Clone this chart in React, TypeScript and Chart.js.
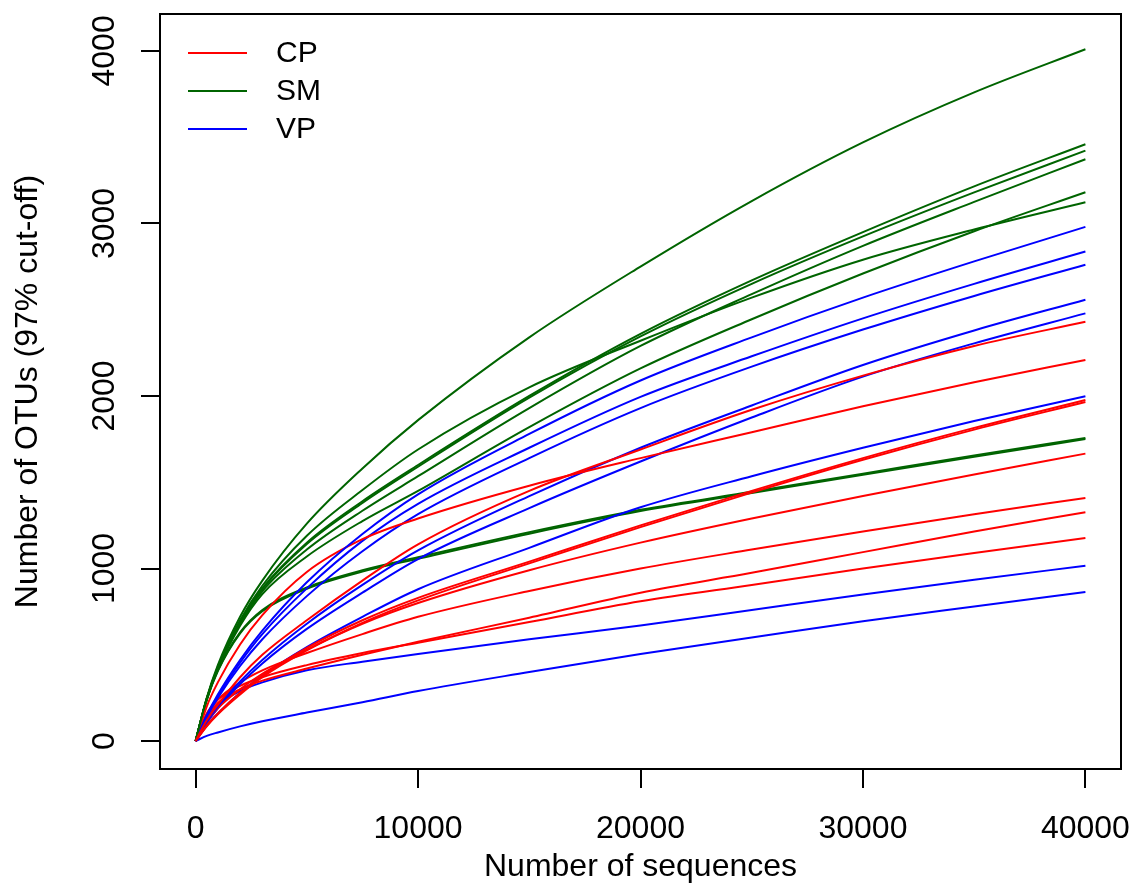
import React, { useEffect, useRef } from "react";
import { Chart, registerables } from "chart.js";

Chart.register(...registerables);

// Rarefaction depth (number of sequences) at which curves are sampled
const xSeq = [0, 500, 1000, 2000, 3000, 5000, 7500, 10000, 15000, 20000, 25000, 30000, 35000, 40000];
const xTicks = [0, 10000, 20000, 30000, 40000];
const yTicks = [0, 1000, 2000, 3000, 4000];

// CP samples (red)
const cp1 = [0, 120, 210, 370, 500, 700, 930, 1140, 1450, 1690, 1920, 2118, 2290, 2430];
const cp2 = [0, 200, 340, 560, 730, 980, 1170, 1290, 1480, 1640, 1790, 1940, 2080, 2209];
const cp3 = [0, 90, 160, 280, 380, 540, 700, 830, 1040, 1250, 1450, 1640, 1815, 1977];
const cp4 = [0, 85, 155, 270, 370, 525, 685, 815, 1030, 1240, 1440, 1630, 1805, 1965];
const cp5 = [0, 110, 190, 300, 390, 530, 680, 800, 990, 1150, 1290, 1420, 1545, 1666];
const cp6 = [0, 150, 240, 340, 410, 510, 620, 720, 870, 1000, 1110, 1215, 1315, 1409];
const cp7 = [0, 140, 220, 300, 350, 420, 500, 575, 715, 860, 975, 1095, 1215, 1326];
const cp8 = [0, 160, 240, 320, 370, 440, 510, 570, 690, 810, 905, 1000, 1090, 1177];

// SM samples (dark green)
const sm1 = [0, 250, 440, 720, 930, 1260, 1580, 1860, 2340, 2750, 3130, 3470, 3760, 4010];
const sm2 = [0, 245, 425, 690, 885, 1150, 1390, 1600, 2000, 2360, 2670, 2950, 3215, 3459];
const sm3 = [0, 244, 423, 686, 880, 1142, 1380, 1590, 1990, 2345, 2650, 2925, 3180, 3422];
const sm4 = [0, 242, 420, 678, 868, 1110, 1335, 1535, 1930, 2290, 2590, 2870, 3125, 3372];
const sm5 = [0, 240, 415, 668, 852, 1070, 1275, 1450, 1820, 2160, 2445, 2710, 2955, 3181];
const sm6 = [0, 246, 430, 700, 900, 1190, 1455, 1690, 2050, 2320, 2570, 2790, 2965, 3123];
const sm7 = [0, 240, 410, 630, 760, 890, 990, 1065, 1210, 1340, 1445, 1550, 1655, 1757];
const sm8 = [0, 237, 405, 624, 752, 882, 982, 1057, 1202, 1333, 1438, 1543, 1648, 1750];

// VP samples (blue)
const vp1 = [0, 150, 270, 470, 640, 920, 1200, 1430, 1780, 2090, 2340, 2570, 2780, 2980];
const vp2 = [0, 145, 260, 455, 620, 885, 1160, 1375, 1700, 1995, 2230, 2450, 2650, 2837];
const vp3 = [0, 140, 250, 435, 590, 840, 1100, 1315, 1640, 1930, 2170, 2385, 2580, 2761];
const vp4 = [0, 110, 200, 345, 470, 680, 905, 1105, 1420, 1700, 1945, 2180, 2380, 2558];
const vp5 = [0, 105, 190, 330, 450, 650, 860, 1055, 1350, 1620, 1875, 2112, 2305, 2479];
const vp6 = [0, 90, 160, 280, 380, 545, 720, 880, 1120, 1355, 1535, 1700, 1855, 1998];
const vp7 = [0, 130, 210, 290, 340, 410, 460, 505, 590, 670, 760, 850, 935, 1016];
const vp8 = [0, 30, 50, 85, 115, 165, 225, 290, 400, 505, 600, 695, 780, 864];

const groupNames = ["CP", "SM", "VP"];
const groupColors = ["#FF0000", "#006400", "#0000FF"];
const cpCurves = [cp1, cp2, cp3, cp4, cp5, cp6, cp7, cp8];
const smCurves = [sm1, sm2, sm3, sm4, sm5, sm6, sm7, sm8];
const vpCurves = [vp1, vp2, vp3, vp4, vp5, vp6, vp7, vp8];

const xTitle = "Number of sequences";
const yTitle = "Number of OTUs (97% cut-off)";
const FONT = '"Liberation Sans", Arial, Helvetica, sans-serif';

export default function App() {
  const ref = useRef<HTMLCanvasElement | null>(null);

  useEffect(() => {
    if (!ref.current) return;
    const groups = [cpCurves, smCurves, vpCurves];
    const datasets: any[] = [];
    for (let i = 0; i < 8; i++) {
      groups.forEach((g, gi) => {
        datasets.push({
          label: groupNames[gi] + (i + 1),
          data: xSeq.map((x, k) => ({ x, y: g[i][k] })),
          borderColor: groupColors[gi],
          backgroundColor: groupColors[gi],
          borderWidth: 2,
          pointRadius: 0,
          fill: false,
          cubicInterpolationMode: "monotone",
        });
      });
    }

    const decor = {
      id: "decor",
      afterDraw(chart: any) {
        const { ctx, chartArea: a, scales } = chart;
        ctx.save();
        ctx.strokeStyle = "#000";
        ctx.lineWidth = 2;
        ctx.strokeRect(a.left, a.top, a.right - a.left, a.bottom - a.top);
        // y tick labels (rotated, as in R)
        ctx.fillStyle = "#000";
        ctx.font = `32px ${FONT}`;
        ctx.textAlign = "center";
        ctx.textBaseline = "middle";
        for (const v of yTicks) {
          const py = scales.y.getPixelForValue(v);
          ctx.save();
          ctx.translate(105, py);
          ctx.rotate(-Math.PI / 2);
          ctx.fillText(String(v), 0, 0);
          ctx.restore();
        }
        // legend
        ctx.font = `30px ${FONT}`;
        ctx.textAlign = "left";
        groupNames.forEach((name, i) => {
          const y = 53 + i * 38;
          ctx.strokeStyle = groupColors[i];
          ctx.lineWidth = 2;
          ctx.beginPath();
          ctx.moveTo(188, y);
          ctx.lineTo(247, y);
          ctx.stroke();
          ctx.fillStyle = "#000";
          ctx.fillText(name, 276, y + 1);
        });
        ctx.restore();
      },
    };

    const gridOpts = {
      display: true,
      drawOnChartArea: false,
      drawTicks: true,
      tickLength: 19,
      color: "#000",
      lineWidth: 2,
    };

    const chart = new Chart(ref.current, {
      type: "line",
      data: { datasets },
      options: {
        responsive: false,
        animation: false,
        layout: { padding: { top: 14, right: 22, left: 0, bottom: 0 } },
        plugins: { legend: { display: false }, tooltip: { enabled: false } },
        scales: {
          x: {
            type: "linear",
            min: -1600,
            max: 41600,
            afterBuildTicks: (s: any) => {
              s.ticks = xTicks.map((v) => ({ value: v }));
            },
            afterFit: (s: any) => {
              s.height = 120;
              s.paddingLeft = 0;
              s.paddingRight = 0;
            },
            grid: gridOpts,
            border: { display: false },
            ticks: {
              color: "#000",
              font: { family: FONT, size: 32 },
              padding: 22,
              maxRotation: 0,
              autoSkip: false,
              callback: (v: any) => String(v),
            },
            title: {
              display: true,
              text: xTitle,
              color: "#000",
              font: { family: FONT, size: 32 },
              padding: { top: 0, bottom: 3 },
            },
          },
          y: {
            type: "linear",
            min: -162,
            max: 4214,
            afterBuildTicks: (s: any) => {
              s.ticks = yTicks.map((v) => ({ value: v }));
            },
            afterFit: (s: any) => {
              s.width = 160;
              s.paddingTop = 0;
              s.paddingBottom = 0;
            },
            grid: gridOpts,
            border: { display: false },
            ticks: { display: false },
            title: {
              display: true,
              text: yTitle,
              color: "#000",
              font: { family: FONT, size: 32 },
              padding: { top: 9, bottom: 0 },
            },
          },
        },
      } as any,
      plugins: [decor],
    });
    return () => chart.destroy();
  }, []);

  return (
    <div style={{ position: "absolute", left: 0, top: 0, width: 1143, height: 889, background: "#fff" }}>
      <canvas ref={ref} width={1143} height={889} style={{ display: "block" }} />
    </div>
  );
}
